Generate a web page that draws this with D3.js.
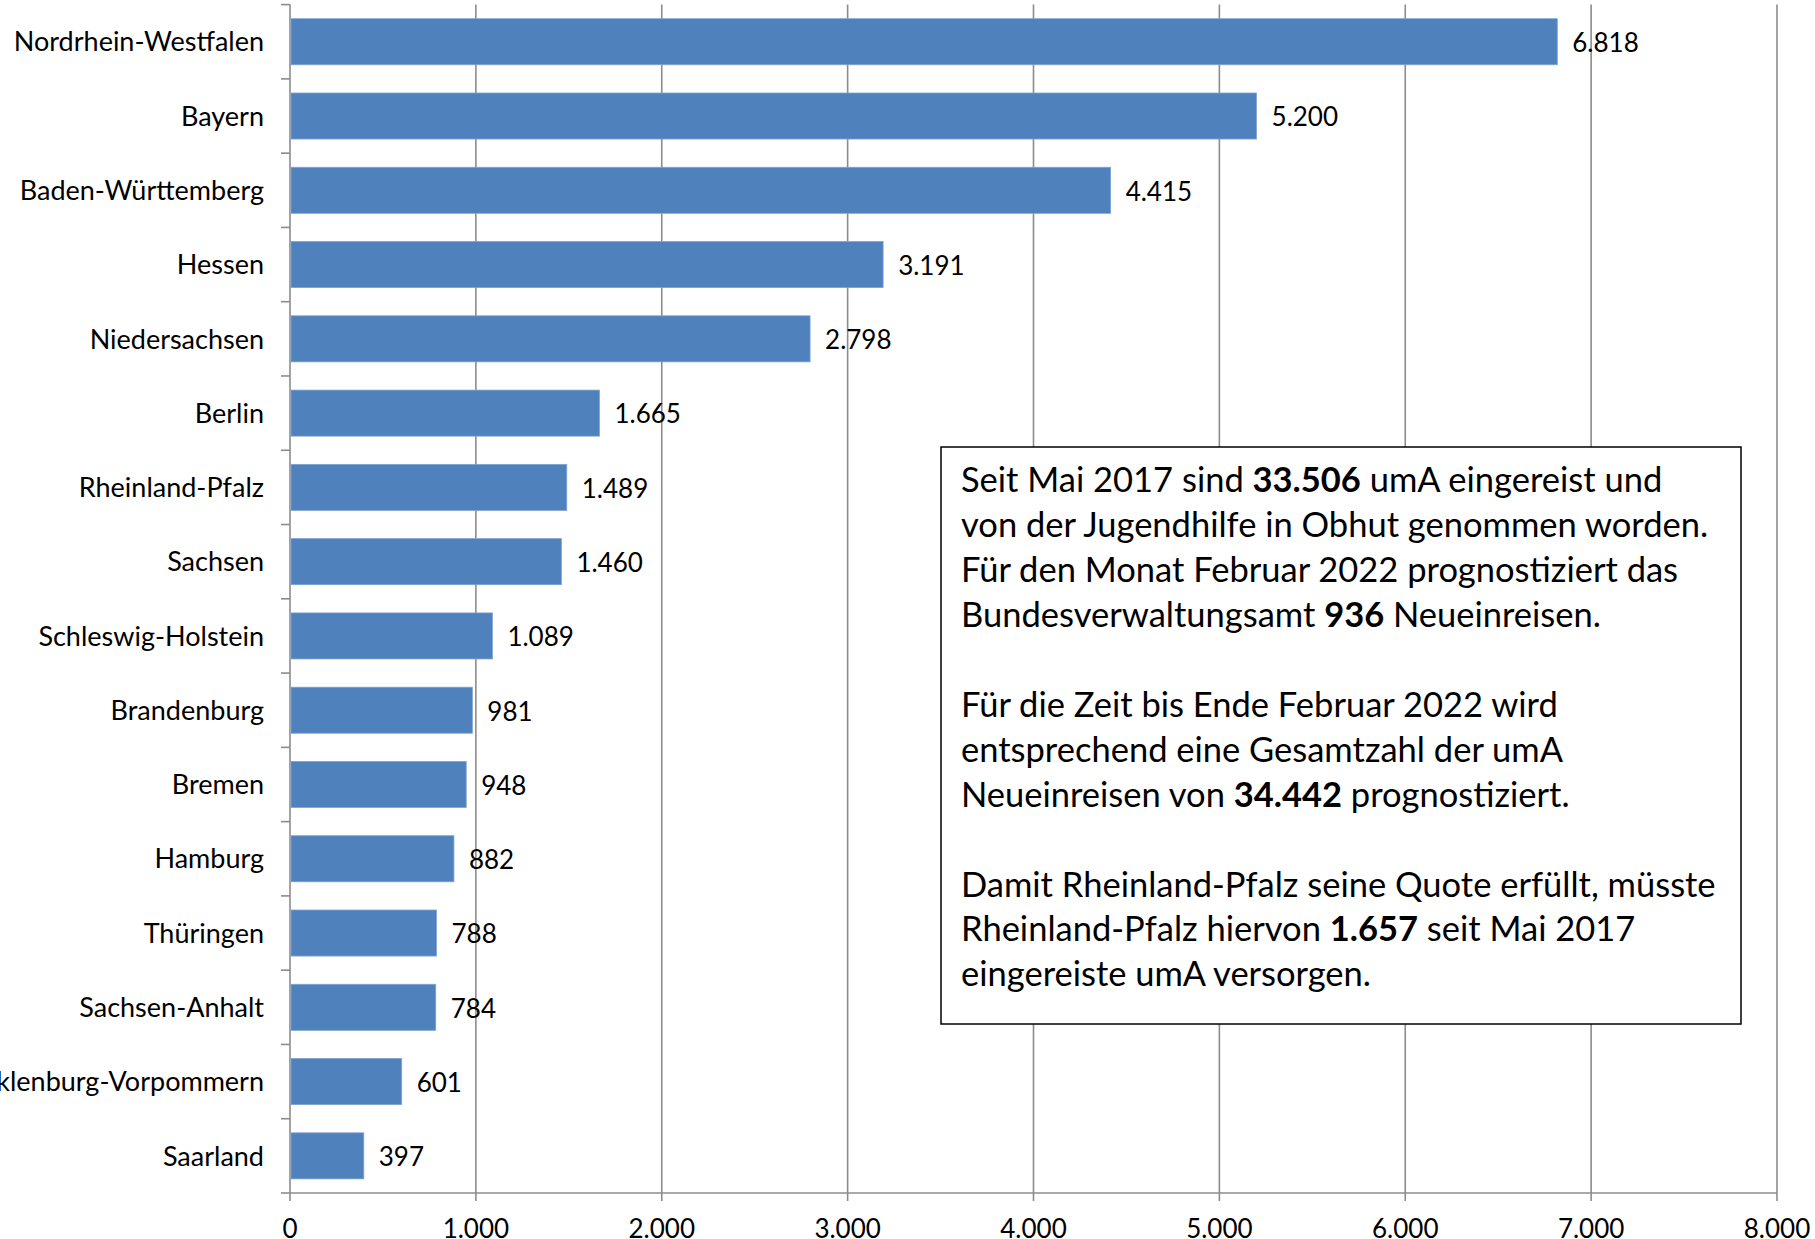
<!DOCTYPE html>
<html>
<head>
<meta charset="utf-8">
<script src="https://cdn.jsdelivr.net/npm/d3@7"></script>
<style>
  body { margin: 0; background: #fff; }
  text { font-family: Lato, "Open Sans", sans-serif; fill: #000; }
</style>
</head>
<body>
<div id="chart"></div>
<script>
var width = 1815, height = 1239;

// data
var states = ['Nordrhein-Westfalen', 'Bayern', 'Baden-Württemberg', 'Hessen', 'Niedersachsen',
  'Berlin', 'Rheinland-Pfalz', 'Sachsen', 'Schleswig-Holstein', 'Brandenburg', 'Bremen',
  'Hamburg', 'Thüringen', 'Sachsen-Anhalt', 'Mecklenburg-Vorpommern', 'Saarland'];
var values = [6818, 5200, 4415, 3191, 2798, 1665, 1489, 1460, 1089, 981, 948, 882, 788, 784, 601, 397];
var xTicks = [0, 1000, 2000, 3000, 4000, 5000, 6000, 7000, 8000];

// note box, each line as [text, bold] pieces
var noteLines = [
  [['Seit Mai 2017 sind ', false], ['33.506', true], [' umA eingereist und', false]],
  [['von der Jugendhilfe in Obhut genommen worden.', false]],
  [['Für den Monat Februar 2022 prognostiziert das', false]],
  [['Bundesverwaltungsamt ', false], ['936', true], [' Neueinreisen.', false]],
  [],
  [['Für die Zeit bis Ende Februar 2022 wird', false]],
  [['entsprechend eine Gesamtzahl der umA', false]],
  [['Neueinreisen von ', false], ['34.442', true], [' prognostiziert.', false]],
  [],
  [['Damit Rheinland-Pfalz seine Quote erfüllt, müsste', false]],
  [['Rheinland-Pfalz hiervon ', false], ['1.657', true], [' seit Mai 2017', false]],
  [['eingereiste umA versorgen.', false]]
];

var fmt = function(v) { return d3.format(',')(v).replace(/,/g, '.'); };

var x = d3.scaleLinear().domain([0, 8000]).range([290, 1777]);
var y = d3.scaleBand().domain(states).range([4.6, 1193]).paddingInner(0.38).paddingOuter(0.19);

var svg = d3.select('#chart').append('svg')
  .attr('width', width)
  .attr('height', height);

var gridColor = '#8c8c8c';

// vertical gridlines
svg.append('g').selectAll('line')
  .data(xTicks)
  .enter().append('line')
  .attr('x1', function(d) { return x(d); })
  .attr('x2', function(d) { return x(d); })
  .attr('y1', 4.6)
  .attr('y2', 1201)
  .attr('stroke', gridColor)
  .attr('stroke-width', 1.6);

// bottom axis line
svg.append('line')
  .attr('x1', x(0)).attr('x2', x(8000))
  .attr('y1', 1193).attr('y2', 1193)
  .attr('stroke', gridColor).attr('stroke-width', 1.6);

// y axis ticks at band boundaries
var step = y.step();
var bounds = d3.range(states.length + 1).map(function(i) { return 4.6 + i * step; });
svg.append('g').selectAll('line')
  .data(bounds)
  .enter().append('line')
  .attr('x1', x(0) - 9).attr('x2', x(0))
  .attr('y1', function(d) { return d; })
  .attr('y2', function(d) { return d; })
  .attr('stroke', gridColor).attr('stroke-width', 1.6);

// bars
svg.append('g').selectAll('rect')
  .data(values)
  .enter().append('rect')
  .attr('x', x(0) + 1)
  .attr('y', function(d, i) { return y(states[i]); })
  .attr('width', function(d) { return x(d) - x(0) - 1; })
  .attr('height', y.bandwidth())
  .attr('fill', '#4f81bd')
  .attr('stroke', '#7fa3d0')
  .attr('stroke-width', 0.8);

// value labels
svg.append('g').selectAll('text')
  .data(values)
  .enter().append('text')
  .attr('x', function(d) { return x(d) + 15; })
  .attr('y', function(d, i) { return y(states[i]) + y.bandwidth() / 2 + 1; })
  .attr('dy', '0.36em')
  .style('font-size', '26px')
  .text(function(d) { return fmt(d); });

// category labels
svg.append('g').selectAll('text')
  .data(states)
  .enter().append('text')
  .attr('x', 264)
  .attr('y', function(d) { return y(d) + y.bandwidth() / 2; })
  .attr('dy', '0.36em')
  .attr('text-anchor', 'end')
  .style('font-size', '27px')
  .text(function(d) { return d; });

// x tick labels
svg.append('g').selectAll('text')
  .data(xTicks)
  .enter().append('text')
  .attr('x', function(d) { return x(d); })
  .attr('y', 1238)
  .attr('text-anchor', 'middle')
  .style('font-size', '26px')
  .text(function(d) { return fmt(d); });

// note box
var box = { x: 941, y: 447, w: 800, h: 577 };
svg.append('rect')
  .attr('x', box.x).attr('y', box.y)
  .attr('width', box.w).attr('height', box.h)
  .attr('fill', '#fff')
  .attr('stroke', '#000')
  .attr('stroke-width', 1.5);

var note = svg.append('g');
noteLines.forEach(function(parts, i) {
  var t = note.append('text')
    .attr('x', 961)
    .attr('y', 480 + i * 44.9)
    .attr('dy', '0.36em')
    .style('font-size', '34.5px');
  parts.forEach(function(p) {
    t.append('tspan')
      .style('font-weight', p[1] ? 'bold' : 'normal')
      .text(p[0]);
  });
});
</script>
</body>
</html>
